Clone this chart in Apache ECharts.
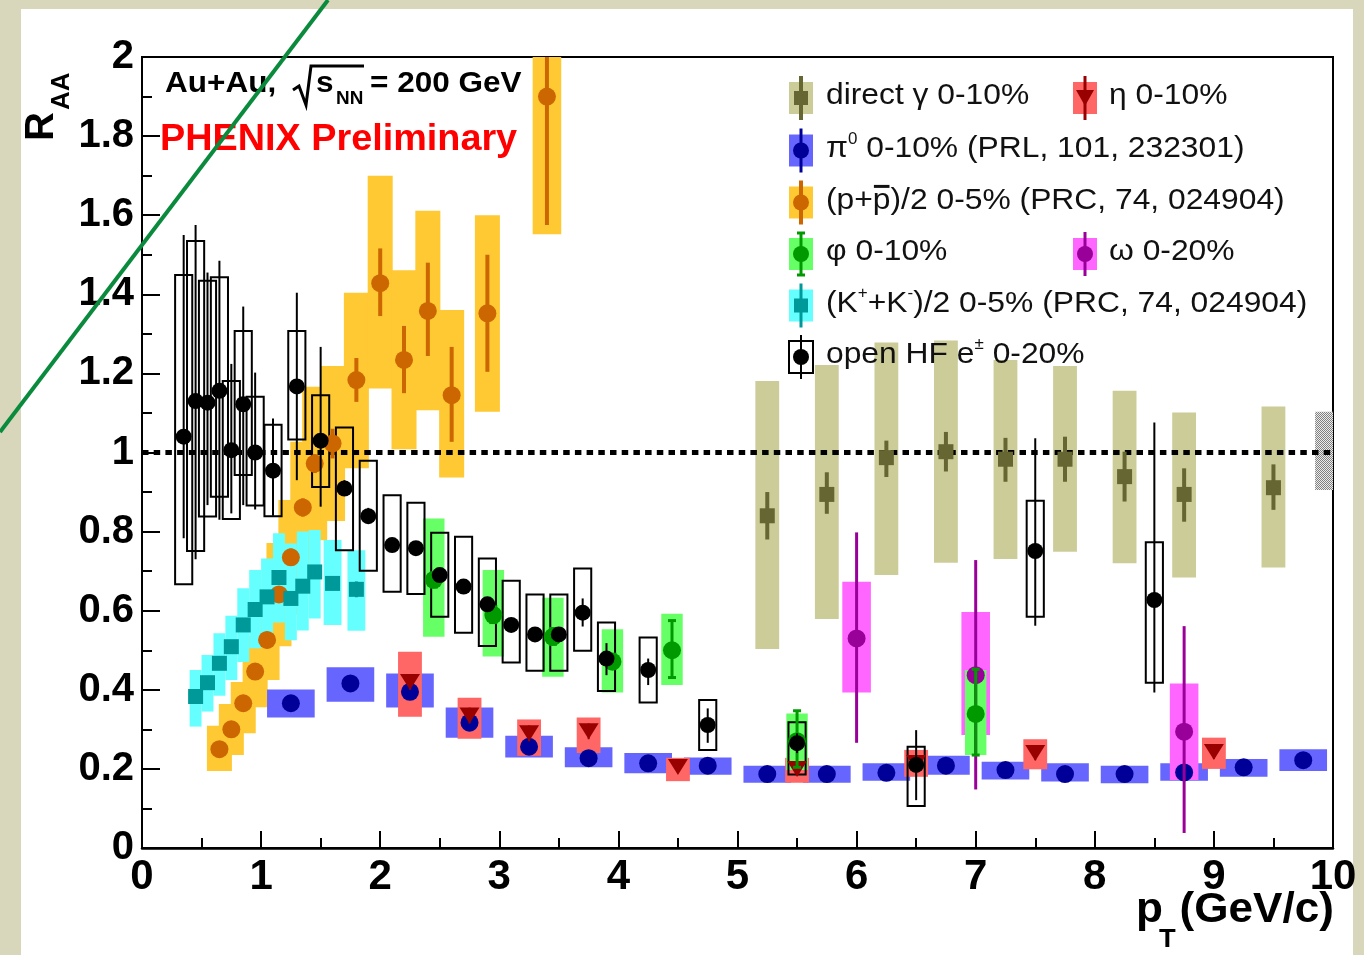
<!DOCTYPE html>
<html><head><meta charset="utf-8">
<script src="https://cdn.jsdelivr.net/npm/echarts@6/dist/echarts.min.js"></script>
<style>
html,body{margin:0;padding:0;background:#d8d6bb;overflow:hidden;}
#panel{position:absolute;left:21px;top:9px;width:1332px;height:946px;background:#fff;}
#c{position:absolute;left:0;top:0;width:1364px;height:955px;}
</style>
</head><body><div id="panel"></div><div id="c"></div>
<script>
// ---------------- data ----------------
// direct gamma 0-10%
const gamPt    = [5.25, 5.75, 6.25, 6.75, 7.25, 7.75, 8.25, 8.75, 9.5];
const gamVal   = [0.84, 0.894, 0.987, 1.002, 0.983, 0.983, 0.939, 0.894, 0.911];
const gamBoxLo = [0.503, 0.579, 0.69, 0.721, 0.731, 0.749, 0.72, 0.684, 0.709];
const gamBoxHi = [1.181, 1.221, 1.278, 1.283, 1.234, 1.219, 1.156, 1.101, 1.116];
const gamErrLo = [0.78, 0.845, 0.938, 0.952, 0.926, 0.926, 0.876, 0.825, 0.855];
const gamErrHi = [0.90, 0.95, 1.03, 1.052, 1.037, 1.04, 1.002, 0.96, 0.97];

// eta 0-10%
const etaPt    = [2.25, 2.75, 3.25, 3.75, 4.5, 5.5, 6.5, 7.5, 9.0];
const etaVal   = [0.42, 0.335, 0.29, 0.295, 0.205, 0.2, 0.215, 0.24, 0.243];
const etaBoxLo = [0.332, 0.276, 0.233, 0.24, 0.169, 0.165, 0.18, 0.199, 0.2];
const etaBoxHi = [0.496, 0.38, 0.325, 0.33, 0.228, 0.228, 0.248, 0.275, 0.279];
const etaErrLo = [0.40, 0.315, 0.27, 0.275, 0.19, 0.185, 0.2, 0.222, 0.225];
const etaErrHi = [0.44, 0.355, 0.31, 0.315, 0.22, 0.215, 0.23, 0.258, 0.261];

// pi0 0-10%
const pi0Pt    = [1.25, 1.75, 2.25, 2.75, 3.25, 3.75, 4.25, 4.75, 5.25, 5.75, 6.25, 6.75, 7.25, 7.75, 8.25, 8.75, 9.25, 9.75];
const pi0Val   = [0.366, 0.416, 0.395, 0.317, 0.256, 0.227, 0.214, 0.208, 0.187, 0.187, 0.19, 0.208, 0.197, 0.187, 0.187, 0.191, 0.204, 0.222];
const pi0BoxLo = [0.33, 0.37, 0.355, 0.279, 0.229, 0.204, 0.189, 0.185, 0.165, 0.165, 0.17, 0.185, 0.173, 0.168, 0.164, 0.17, 0.18, 0.195];
const pi0BoxHi = [0.401, 0.457, 0.441, 0.355, 0.284, 0.255, 0.24, 0.229, 0.208, 0.208, 0.214, 0.233, 0.218, 0.214, 0.208, 0.214, 0.225, 0.25];
const pi0ErrLo = [0.354, 0.404, 0.383, 0.305, 0.244, 0.215, 0.202, 0.196, 0.175, 0.175, 0.178, 0.196, 0.185, 0.175, 0.175, 0.179, 0.192, 0.210];
const pi0ErrHi = [0.378, 0.428, 0.407, 0.329, 0.268, 0.239, 0.226, 0.220, 0.199, 0.199, 0.202, 0.220, 0.209, 0.199, 0.199, 0.203, 0.216, 0.234];

// (p+pbar)/2 0-5%
const pPt    = [0.65, 0.75, 0.85, 0.95, 1.05, 1.15, 1.25, 1.35, 1.45, 1.6, 1.8, 2.0, 2.2, 2.4, 2.6, 2.9, 3.4];
const pVal   = [0.25, 0.30, 0.366, 0.446, 0.526, 0.641, 0.735, 0.861, 0.972, 1.023, 1.183, 1.428, 1.234, 1.358, 1.145, 1.352, 1.90];
const pBoxLo = [0.195, 0.235, 0.29, 0.356, 0.425, 0.51, 0.59, 0.695, 0.778, 0.827, 0.96, 1.162, 1.008, 1.107, 0.937, 1.103, 1.552];
const pBoxHi = [0.309, 0.364, 0.42, 0.536, 0.626, 0.771, 0.88, 1.027, 1.166, 1.219, 1.404, 1.70, 1.461, 1.611, 1.36, 1.60, 2.25];
const pErrLo = [0.23, 0.28, 0.345, 0.425, 0.505, 0.62, 0.713, 0.838, 0.948, 0.985, 1.128, 1.345, 1.15, 1.244, 1.027, 1.204, 1.575];
const pErrHi = [0.27, 0.32, 0.387, 0.467, 0.547, 0.662, 0.757, 0.884, 0.996, 1.06, 1.239, 1.516, 1.32, 1.48, 1.267, 1.50, 2.2];

// phi 0-10%
const phiPt    = [2.45, 2.95, 3.45, 3.95, 4.45, 5.5, 7.0];
const phiVal   = [0.678, 0.589, 0.534, 0.471, 0.50, 0.27, 0.339];
const phiBoxLo = [0.534, 0.484, 0.433, 0.393, 0.412, 0.197, 0.235];
const phiBoxHi = [0.833, 0.703, 0.633, 0.553, 0.592, 0.34, 0.45];
const phiErrLo = [0.66, 0.57, 0.515, 0.455, 0.431, 0.204, 0.235];
const phiErrHi = [0.695, 0.61, 0.555, 0.49, 0.575, 0.347, 0.452];

// omega 0-20%
const omPt    = [6.0, 7.0, 8.75];
const omVal   = [0.53, 0.437, 0.294];
const omBoxLo = [0.393, 0.286, 0.172];
const omBoxHi = [0.673, 0.597, 0.416];
const omErrLo = [0.266, 0.148, 0.038];
const omErrHi = [0.798, 0.728, 0.561];

// (K+ + K-)/2 0-5%
const kPt    = [0.45, 0.55, 0.65, 0.75, 0.85, 0.95, 1.05, 1.15, 1.25, 1.35, 1.45, 1.6, 1.8];
const kVal   = [0.383, 0.418, 0.467, 0.509, 0.564, 0.603, 0.635, 0.684, 0.631, 0.662, 0.698, 0.669, 0.654];
const kBoxLo = [0.307, 0.345, 0.385, 0.425, 0.47, 0.505, 0.53, 0.57, 0.525, 0.55, 0.58, 0.564, 0.549];
const kBoxHi = [0.45, 0.488, 0.543, 0.587, 0.657, 0.703, 0.732, 0.796, 0.77, 0.80, 0.804, 0.779, 0.753];
const kErrLo = [0.366, 0.401, 0.45, 0.492, 0.547, 0.586, 0.618, 0.667, 0.614, 0.645, 0.681, 0.652, 0.634];
const kErrHi = [0.400, 0.435, 0.484, 0.526, 0.581, 0.620, 0.652, 0.701, 0.648, 0.679, 0.715, 0.686, 0.674];

// open heavy flavour e+- 0-20%
const hfPt    = [0.35, 0.45, 0.55, 0.65, 0.75, 0.85, 0.95, 1.1, 1.3, 1.5, 1.7, 1.9, 2.1, 2.3, 2.5, 2.7, 2.9, 3.1, 3.3, 3.5, 3.7, 3.9, 4.25, 4.75, 5.5, 6.5, 7.5, 8.5];
const hfVal   = [1.04, 1.13, 1.126, 1.156, 1.006, 1.122, 1.0, 0.954, 1.167, 1.03, 0.909, 0.839, 0.766, 0.758, 0.69, 0.661, 0.616, 0.564, 0.54, 0.54, 0.595, 0.479, 0.45, 0.311, 0.265, 0.21, 0.751, 0.627];
const hfBoxLo = [0.667, 0.751, 0.838, 0.888, 0.832, 0.943, 0.866, 0.839, 1.033, 0.913, 0.753, 0.701, 0.648, 0.642, 0.585, 0.544, 0.511, 0.469, 0.448, 0.448, 0.499, 0.397, 0.368, 0.248, 0.186, 0.106, 0.585, 0.418];
const hfBoxHi = [1.449, 1.535, 1.434, 1.443, 1.181, 1.307, 1.141, 1.07, 1.307, 1.145, 1.063, 0.979, 0.892, 0.873, 0.797, 0.787, 0.732, 0.676, 0.641, 0.641, 0.707, 0.57, 0.532, 0.374, 0.318, 0.256, 0.878, 0.773];
const hfErrLo = [0.783, 0.73, 0.867, 0.83, 0.846, 0.867, 0.856, 0.84, 0.93, 0.863, 0.89, 0.82, 0.75, 0.74, 0.675, 0.645, 0.6, 0.55, 0.525, 0.525, 0.56, 0.437, 0.412, 0.266, 0.24, 0.121, 0.562, 0.393];
const hfErrHi = [1.55, 1.575, 1.455, 1.485, 1.224, 1.369, 1.202, 1.086, 1.404, 1.267, 0.93, 0.86, 0.78, 0.775, 0.705, 0.677, 0.632, 0.58, 0.555, 0.555, 0.631, 0.518, 0.479, 0.353, 0.29, 0.298, 1.036, 1.076];

// global normalisation uncertainty box at R=1
const normPt = [9.925];
const normLo = [0.905];
const normHi = [1.103];

// unity reference line
const unityX = [0, 10];
const unityY = 1;

// axes
const xMin = 0, xMax = 10, xStep = 1;
const yMin = 0, yMax = 2, yStep = 0.2;

// ---------------- rendering ----------------
const FONT = '"Liberation Sans", Arial, Helvetica, sans-serif';
const chart = echarts.init(document.getElementById('c'), null, {renderer: 'canvas'});

function boxes(pts, lo, hi, hw, fill, z, open) {
  return {
    type: 'custom', z, silent: true, clip: true,
    data: pts.map((p, i) => [p, lo[i], hi[i]]),
    renderItem: (params, api) => {
      const x = api.value(0);
      const w = (typeof hw === 'function') ? hw(x) : hw;
      const a = api.coord([x - w, api.value(2)]);
      const b = api.coord([x + w, api.value(1)]);
      const cs = params.coordSys;
      const shape = echarts.graphic.clipRectByRect(
        {x: a[0], y: a[1], width: b[0] - a[0], height: b[1] - a[1]},
        {x: cs.x, y: cs.y, width: cs.width, height: cs.height});
      if (!shape) return null;
      return {type: 'rect', shape,
        style: open ? {fill: 'none', stroke: '#000', lineWidth: 2} : {fill}};
    }
  };
}

function errs(pts, lo, hi, color, width, z, cap) {
  return {
    type: 'custom', z, silent: true,
    data: pts.map((p, i) => [p, lo[i], hi[i]]),
    renderItem: (params, api) => {
      const cs = params.coordSys;
      const x = api.value(0);
      const a = api.coord([x, api.value(2)]);
      const b = api.coord([x, api.value(1)]);
      const top = Math.max(a[1], cs.y), bot = Math.min(b[1], cs.y + cs.height);
      const st = {stroke: color, lineWidth: width};
      const ch = [{type: 'line', shape: {x1: a[0], y1: top, x2: a[0], y2: bot}, style: st}];
      if (cap) {
        ch.push({type: 'line', shape: {x1: a[0] - cap, y1: top, x2: a[0] + cap, y2: top}, style: st});
        ch.push({type: 'line', shape: {x1: a[0] - cap, y1: bot, x2: a[0] + cap, y2: bot}, style: st});
      }
      return {type: 'group', children: ch};
    }
  };
}

function marks(pts, vals, symbol, size, color, z, rot) {
  return {
    type: 'scatter', z, silent: true, symbol, symbolSize: size, symbolRotate: rot || 0,
    itemStyle: {color, opacity: 1},
    data: pts.map((p, i) => [p, vals[i]])
  };
}

// dotted pattern for the normalisation box
const pc = document.createElement('canvas');
pc.width = 2; pc.height = 2;
const pg = pc.getContext('2d');
pg.fillStyle = '#ececec'; pg.fillRect(0, 0, 2, 2);
pg.fillStyle = '#808080'; pg.fillRect(0, 0, 1, 1); pg.fillRect(1, 1, 1, 1);
const normFill = {image: pc, repeat: 'repeat'};

const C = {
  olive: '#cccc99', oliveM: '#666633',
  orange: '#ffc933', orangeM: '#cc6600',
  cyan: '#66ffff', cyanM: '#009999',
  blue: '#6666ff', blueM: '#000099',
  red: '#ff6666', redM: '#990000',
  green: '#66ff66', greenM: '#009900',
  mag: '#ff66ff', magM: '#990099'
};

const series = [
  boxes(gamPt, gamBoxLo, gamBoxHi, 0.1, C.olive, 1),
  boxes(pPt, pBoxLo, pBoxHi, x => x > 3 ? 0.12 : 0.105, C.orange, 2),
  boxes(kPt, kBoxLo, kBoxHi, x => x > 1.5 ? 0.075 : 0.05, C.cyan, 3),
  boxes(pi0Pt, pi0BoxLo, pi0BoxHi, 0.2, C.blue, 4),
  boxes(etaPt, etaBoxLo, etaBoxHi, 0.1, C.red, 5),
  boxes(omPt, omBoxLo, omBoxHi, 0.12, C.mag, 6),
  boxes(phiPt, phiBoxLo, phiBoxHi, 0.09, C.green, 7),
  boxes(normPt, normLo, normHi, 0.075, normFill, 7),
  boxes(hfPt, hfBoxLo, hfBoxHi, 0.072, null, 8, true),
  {type: 'line', z: 9, silent: true, symbol: 'none',
   data: unityX.map(x => [x, unityY]),
   lineStyle: {color: '#000', width: 5, type: [6.5, 5.2], cap: 'butt'}},
  errs(pPt, pErrLo, pErrHi, C.orangeM, 4, 10),
  marks(pPt, pVal, 'circle', 18, C.orangeM, 11),
  errs(kPt, kErrLo, kErrHi, C.cyanM, 3, 12),
  marks(kPt, kVal, 'rect', 15, C.cyanM, 13),
  errs(pi0Pt, pi0ErrLo, pi0ErrHi, C.blueM, 2, 14),
  marks(pi0Pt, pi0Val, 'circle', 18, C.blueM, 15),
  errs(etaPt, etaErrLo, etaErrHi, C.redM, 2, 16),
  marks(etaPt, etaVal, 'triangle', [20, 16], C.redM, 17, 180),
  errs(omPt, omErrLo, omErrHi, C.magM, 3, 18),
  marks(omPt, omVal, 'circle', 18, C.magM, 19),
  errs(phiPt, phiErrLo, phiErrHi, C.greenM, 3, 20, 4),
  marks(phiPt, phiVal, 'circle', 18, C.greenM, 21),
  errs(gamPt, gamErrLo, gamErrHi, C.oliveM, 4, 22),
  marks(gamPt, gamVal, 'rect', 15, C.oliveM, 23),
  errs(hfPt, hfErrLo, hfErrHi, '#000', 2, 24),
  marks(hfPt, hfVal, 'circle', 16, '#000', 25)
];

// ---------- text helpers (graphic) ----------
const mctx = document.createElement('canvas').getContext('2d');
function runs(x0, y0, parts, base, weight, color, sx, zz) {
  const children = [];
  let cx = 0;
  for (const p of parts) {
    const fs = p.s || base;
    const font = weight + ' ' + fs + 'px ' + FONT;
    mctx.font = font;
    const w = mctx.measureText(p.t).width;
    children.push({type: 'text', x: cx, y: p.dy || 0, z: zz,
      style: {text: p.t, font, fill: color, align: 'left', verticalAlign: 'middle',
              textAlign: 'left', textVerticalAlign: 'middle'}});
    if (p.over) {
      children.push({type: 'line', z: zz,
        shape: {x1: cx + 1, y1: -0.47 * fs, x2: cx + w - 1, y2: -0.47 * fs},
        style: {stroke: color, lineWidth: 3}});
    }
    cx += w;
  }
  return {type: 'group', x: x0, y: y0, scaleX: sx || 1, z: zz, children};
}
function txt(x, y, t, fs, weight, color, align, sx, zz) {
  return {type: 'group', x, y, scaleX: sx || 1, z: zz || 100, children: [
    {type: 'text', z: zz || 100, style: {text: t, font: weight + ' ' + fs + 'px ' + FONT, fill: color,
      align: align || 'left', verticalAlign: 'middle', textAlign: align || 'left', textVerticalAlign: 'middle'}}]};
}

function icon(cx, cy, o) {
  const z = 100, els = [];
  if (o.box) els.push({type: 'rect', z, shape: {x: cx - 12, y: cy - 16, width: 24, height: 32},
    style: {fill: o.box}});
  els.push({type: 'line', z: z + 1, shape: {x1: cx, y1: cy - 22, x2: cx, y2: cy + 22},
    style: {stroke: o.lc, lineWidth: o.lw || 3}});
  if (o.cap) {
    els.push({type: 'line', z: z + 1, shape: {x1: cx - 4, y1: cy - 21, x2: cx + 4, y2: cy - 21}, style: {stroke: o.lc, lineWidth: 3}});
    els.push({type: 'line', z: z + 1, shape: {x1: cx - 4, y1: cy + 21, x2: cx + 4, y2: cy + 21}, style: {stroke: o.lc, lineWidth: 3}});
  }
  if (o.open) els.push({type: 'rect', z: z + 1, shape: {x: cx - 12, y: cy - 16, width: 24, height: 32},
    style: {fill: 'none', stroke: '#000', lineWidth: 2}});
  const st = {fill: o.mc};
  if (o.m === 'circle') els.push({type: 'circle', z: z + 2, shape: {cx, cy, r: 8}, style: st});
  else if (o.m === 'rect') els.push({type: 'rect', z: z + 2, shape: {x: cx - 7, y: cy - 7, width: 14, height: 14}, style: st});
  else if (o.m === 'tri') els.push({type: 'polygon', z: z + 2, shape: {points: [[cx - 9, cy - 8], [cx + 9, cy - 8], [cx, cy + 8]]}, style: st});
  return els;
}

const LX = 801, RX = 1085, LT = 826, RT = 1109;
const rows = [98, 150.5, 202.5, 254, 305.5, 357];
const LF = 30, SX = 1.06, TC = '#111';
let graphics = [];
graphics = graphics.concat(
  icon(LX, rows[0], {box: C.olive, lc: C.oliveM, lw: 4, m: 'rect', mc: C.oliveM}),
  icon(RX, rows[0], {box: C.red, lc: C.redM, m: 'tri', mc: C.redM}),
  icon(LX, rows[1], {box: C.blue, lc: C.blueM, m: 'circle', mc: C.blueM}),
  icon(LX, rows[2], {box: C.orange, lc: C.orangeM, lw: 4, m: 'circle', mc: C.orangeM}),
  icon(LX, rows[3], {box: C.green, lc: C.greenM, cap: true, m: 'circle', mc: C.greenM}),
  icon(RX, rows[3], {box: C.mag, lc: C.magM, m: 'circle', mc: C.magM}),
  icon(LX, rows[4], {box: C.cyan, lc: C.cyanM, m: 'rect', mc: C.cyanM}),
  icon(LX, rows[5], {open: true, lc: '#000', lw: 2, m: 'circle', mc: '#000'})
);
const dyT = -2;
graphics.push(
  runs(LT, rows[0] + dyT, [{t: 'direct γ 0-10%'}], LF, 'normal', TC, SX, 100),
  runs(RT, rows[0] + dyT, [{t: 'η 0-10%'}], LF, 'normal', TC, SX, 100),
  runs(LT, rows[1] + dyT, [{t: 'π'}, {t: '0', s: 16, dy: -9}, {t: ' 0-10% (PRL, 101, 232301)'}], LF, 'normal', TC, SX, 100),
  runs(LT, rows[2] + dyT, [{t: '(p+'}, {t: 'p', over: true}, {t: ')/2 0-5% (PRC, 74, 024904)'}], LF, 'normal', TC, SX, 100),
  runs(LT, rows[3] + dyT, [{t: 'φ 0-10%'}], LF, 'normal', TC, SX, 100),
  runs(RT, rows[3] + dyT, [{t: 'ω 0-20%'}], LF, 'normal', TC, SX, 100),
  runs(LT, rows[4] + dyT, [{t: '(K'}, {t: '+', s: 16, dy: -10}, {t: '+K'}, {t: '-', s: 16, dy: -10}, {t: ')/2 0-5% (PRC, 74, 024904)'}], LF, 'normal', TC, SX, 100),
  runs(LT, rows[5] + dyT, [{t: 'open HF e'}, {t: '±', s: 16, dy: -10}, {t: ' 0-20%'}], LF, 'normal', TC, SX, 100)
);

// header texts
graphics.push(
  txt(165, 84, 'Au+Au,', 30, 'bold', '#000', 'left', 1.05, 100),
  {type: 'polyline', z: 100, shape: {points: [[293, 90], [299, 86], [306, 105], [311, 66], [364, 66]]},
   style: {stroke: '#000', lineWidth: 3, fill: null}},
  txt(316, 84, 's', 30, 'bold', '#000', 'left', 1.05, 100),
  txt(336, 99, 'NN', 18, 'bold', '#000', 'left', 1.05, 100),
  txt(370, 84, '= 200 GeV', 30, 'bold', '#000', 'left', 1.05, 100),
  txt(160, 140, 'PHENIX Preliminary', 36, 'bold', '#ff0000', 'left', 1.05, 100)
);

// axis titles
graphics.push(
  {type: 'group', x: 42, y: 141, rotation: Math.PI / 2, z: 100, children: [
    {type: 'text', x: 0, y: 0, z: 100, style: {text: 'R', font: 'bold 40px ' + FONT, fill: '#000', align: 'left', verticalAlign: 'middle', textAlign: 'left', textVerticalAlign: 'middle'}},
    {type: 'text', x: 31, y: 20, z: 100, style: {text: 'AA', font: 'bold 26px ' + FONT, fill: '#000', align: 'left', verticalAlign: 'middle', textAlign: 'left', textVerticalAlign: 'middle'}}
  ]},
  txt(1334, 910, '(GeV/c)', 42, 'bold', '#000', 'right', 1.05, 100),
  txt(1163, 910, 'p', 42, 'bold', '#000', 'right', 1.05, 100),
  txt(1159, 940, 'T', 26, 'bold', '#000', 'left', 1.05, 100)
);

// green annotation stroke over the picture
graphics.push({type: 'line', z: 300, shape: {x1: 328, y1: 0, x2: 0, y2: 432},
  style: {stroke: '#0a8a3c', lineWidth: 4}});

const option = {
  animation: false,
  backgroundColor: 'transparent',
  grid: {left: 142, top: 57, width: 1191, height: 791, show: true, borderColor: '#000', borderWidth: 2, backgroundColor: 'transparent'},
  xAxis: {
    type: 'value', min: xMin, max: xMax, interval: xStep,
    axisLine: {show: true, onZero: false, lineStyle: {color: '#000', width: 2.5}},
    axisTick: {show: true, inside: true, length: 17, lineStyle: {color: '#000', width: 2}},
    minorTick: {show: true, splitNumber: 2, length: 10, lineStyle: {color: '#000', width: 2}},
    splitLine: {show: false}, minorSplitLine: {show: false},
    axisLabel: {color: '#000', fontSize: 42, fontWeight: 'bold', fontFamily: FONT, margin: 8}
  },
  yAxis: {
    type: 'value', min: yMin, max: yMax, interval: yStep,
    axisLine: {show: true, onZero: false, lineStyle: {color: '#000', width: 2}},
    axisTick: {show: true, inside: true, length: 18, lineStyle: {color: '#000', width: 2}},
    minorTick: {show: true, splitNumber: 2, length: 10, lineStyle: {color: '#000', width: 2}},
    splitLine: {show: false}, minorSplitLine: {show: false},
    axisLabel: {color: '#000', fontSize: 40, fontWeight: 'bold', fontFamily: FONT, margin: 8}
  },
  series,
  graphic: {elements: graphics}
};
chart.setOption(option);
</script>
</body></html>
